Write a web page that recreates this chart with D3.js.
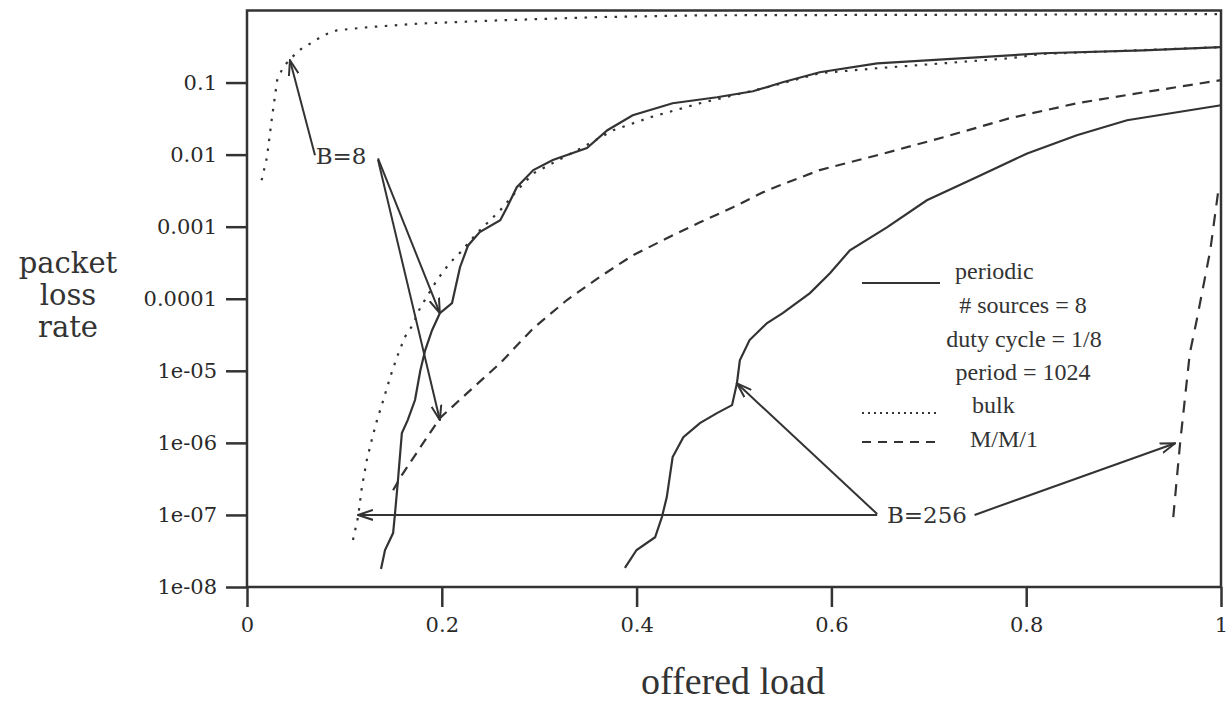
<!DOCTYPE html>
<html>
<head>
<meta charset="utf-8">
<script src="https://cdn.jsdelivr.net/npm/d3@7"></script>
<style>
  body { margin: 0; background: #fff; }
  svg { display: block; }
</style>
</head>
<body>
<svg id="chart" width="1230" height="704"></svg>
<script>
// Values (offered load vs. packet loss rate)
const bulk8Load = [0.015, 0.0205, 0.0257, 0.031, 0.037, 0.046, 0.0565, 0.067, 0.078, 0.092, 0.123, 0.178, 0.26, 0.362, 0.465, 0.67, 1.0];
const bulk8Loss = [0.0044, 0.0092, 0.033, 0.108, 0.163, 0.224, 0.30, 0.36, 0.45, 0.53, 0.585, 0.66, 0.73, 0.81, 0.857, 0.87, 0.89];

const periodic8Load = [0.1376, 0.1417, 0.150, 0.152, 0.155, 0.159, 0.165, 0.1725, 0.178, 0.183, 0.190, 0.198, 0.2105, 0.2187, 0.227, 0.239, 0.26, 0.267, 0.277, 0.294, 0.314, 0.349, 0.370, 0.396, 0.437, 0.4825, 0.5195, 0.550, 0.588, 0.647, 0.715, 0.817, 0.92, 1.0];
const periodic8Loss = [1.78e-8, 3.26e-8, 5.6e-8, 1.06e-7, 3.05e-7, 1.37e-6, 2.07e-6, 3.93e-6, 1.02e-5, 1.94e-5, 3.66e-5, 6.3e-5, 8.7e-5, 2.74e-4, 5.5e-4, 8.4e-4, 1.23e-3, 1.86e-3, 3.53e-3, 6.1e-3, 8.4e-3, 0.0123, 0.0218, 0.0352, 0.0516, 0.0625, 0.0757, 0.101, 0.139, 0.185, 0.21, 0.255, 0.28, 0.31];

const bulk256Load = [0.1088, 0.114, 0.118, 0.123, 0.128, 0.1335, 0.140, 0.147, 0.154, 0.162, 0.170, 0.178, 0.195, 0.208, 0.219, 0.236, 0.26, 0.280, 0.294, 0.345, 0.376, 0.414, 0.465, 0.534, 0.588, 0.647, 0.715, 0.783, 0.817, 1.0];
const bulk256Loss = [4.5e-8, 9.35e-8, 2.44e-7, 5.77e-7, 1.09e-6, 2.07e-6, 3.93e-6, 8.2e-6, 1.55e-5, 2.93e-5, 4.3e-5, 7.6e-5, 1.81e-4, 3.12e-4, 4.4e-4, 8.1e-4, 1.69e-3, 3.5e-3, 5.5e-3, 0.0127, 0.0218, 0.033, 0.0516, 0.086, 0.135, 0.158, 0.185, 0.217, 0.25, 0.31];

const mm1_8Load = [0.15, 0.159, 0.178, 0.198, 0.226, 0.26, 0.294, 0.3285, 0.362, 0.396, 0.431, 0.465, 0.499, 0.534, 0.588, 0.647, 0.715, 0.783, 0.852, 0.92, 1.0];
const mm1_8Loss = [2.2e-7, 3.57e-7, 8.7e-7, 2.2e-6, 4.9e-6, 1.28e-5, 3.9e-5, 9.6e-5, 2.0e-4, 4.0e-4, 6.9e-4, 1.15e-3, 1.86e-3, 3.2e-3, 6.1e-3, 9.8e-3, 0.0174, 0.032, 0.0516, 0.073, 0.108];

const periodic256Load = [0.388, 0.4, 0.419, 0.426, 0.431, 0.437, 0.448, 0.465, 0.4825, 0.498, 0.503, 0.506, 0.516, 0.534, 0.55, 0.578, 0.5985, 0.619, 0.657, 0.698, 0.7495, 0.801, 0.852, 0.9035, 1.0];
const periodic256Loss = [1.84e-8, 3.26e-8, 4.9e-8, 9.35e-8, 1.77e-7, 6.35e-7, 1.2e-6, 1.88e-6, 2.59e-6, 3.34e-6, 6.7e-6, 1.4e-5, 2.67e-5, 4.6e-5, 6.3e-5, 1.2e-4, 2.26e-4, 4.7e-4, 9.8e-4, 2.33e-3, 4.9e-3, 0.0104, 0.0186, 0.030, 0.0484];

const mm1_256Load = [0.951, 0.958, 0.968, 0.975, 0.989, 0.997];
const mm1_256Loss = [9.35e-8, 9.9e-7, 1.76e-5, 5.0e-5, 4.7e-4, 3.0e-3];

const xTicks = [0, 0.2, 0.4, 0.6, 0.8, 1];
const xTickLabels = ["0", "0.2", "0.4", "0.6", "0.8", "1"];
const yTicks = [1e-8, 1e-7, 1e-6, 1e-5, 1e-4, 1e-3, 1e-2, 1e-1];
const yTickLabels = ["1e-08", "1e-07", "1e-06", "1e-05", "0.0001", "0.001", "0.01", "0.1"];

const yTitleWords = ["packet", "loss", "rate"];
const legendLabels = ["periodic", "# sources = 8", "duty cycle = 1/8", "period = 1024", "bulk", "M/M/1"];

// Annotation arrows: [fromLoad, fromLoss, toLoad, toLoss]
const arrowsB8 = [
    [0.0698, 0.0098, 0.0441, 0.204],
    [0.1345, 0.0089, 0.198, 6.3e-5],
    [0.1345, 0.0085, 0.198, 2.07e-6]
];
const arrowsB256 = [
    [0.647, 1e-7, 0.114, 1e-7],
    [0.647, 1.03e-7, 0.503, 6.7e-6],
    [0.747, 1e-7, 0.953, 9.9e-7]
];
const labelB8 = { load: 0.0705, loss: 0.0098, text: "B=8" };
const labelB256 = { load: 0.657, loss: 1e-7, text: "B=256" };

const ink = "#333";
const svg = d3.select("#chart");

const x = d3.scaleLinear().domain([0, 1]).range([247, 1221]);
const y = d3.scaleLog().domain([1e-8, 1]).range([587, 10.5]);

function zip(xs, ys) {
    return xs.map((v, i) => ({ x: v, y: ys[i] }));
}

// Frame
svg.append("rect")
    .attr("x", x(0)).attr("y", y(1))
    .attr("width", x(1) - x(0)).attr("height", y(1e-8) - y(1))
    .attr("fill", "none")
    .attr("stroke", ink)
    .attr("stroke-width", 2.5);

// Axes
const yAxis = d3.axisLeft(y)
    .tickValues(yTicks)
    .tickFormat((d, i) => yTickLabels[i])
    .tickSize(21)
    .tickPadding(9);

const xAxis = d3.axisBottom(x)
    .tickValues(xTicks)
    .tickFormat((d, i) => xTickLabels[i])
    .tickSize(20)
    .tickPadding(10);

svg.append("g")
    .attr("transform", `translate(${x(0)},0)`)
    .call(yAxis)
    .call(styleAxis);

svg.append("g")
    .attr("transform", `translate(0,${y(1e-8)})`)
    .call(xAxis)
    .call(styleAxis);

function styleAxis(g) {
    g.select(".domain").remove();
    g.selectAll(".tick line")
        .attr("stroke", ink)
        .attr("stroke-width", 2.5);
    g.selectAll(".tick text")
        .attr("fill", "#2a2a2a")
        .style("font-family", "'DejaVu Serif', serif")
        .style("font-size", "21px");
}

// Axis titles
svg.append("text")
    .attr("x", 733).attr("y", 694)
    .attr("text-anchor", "middle")
    .attr("fill", ink)
    .style("font-family", "'Liberation Serif', serif")
    .style("font-size", "38px")
    .text("offered load");

svg.append("g")
    .selectAll("text")
    .data(yTitleWords)
    .join("text")
    .attr("x", 68)
    .attr("y", (d, i) => 273 + i * 32)
    .attr("text-anchor", "middle")
    .attr("fill", ink)
    .style("font-family", "'DejaVu Serif', serif")
    .style("font-size", "29px")
    .text(d => d);

// Curves
const line = d3.line()
    .x(d => x(d.x))
    .y(d => y(d.y));

const series = [
    { data: zip(bulk8Load, bulk8Loss), dash: "2.5,7.5" },
    { data: zip(periodic8Load, periodic8Loss), dash: null },
    { data: zip(bulk256Load, bulk256Loss), dash: "2.5,7.5" },
    { data: zip(mm1_8Load, mm1_8Loss), dash: "10,7" },
    { data: zip(periodic256Load, periodic256Loss), dash: null },
    { data: zip(mm1_256Load, mm1_256Loss), dash: "12,9" }
];

svg.append("g")
    .selectAll("path")
    .data(series)
    .join("path")
    .attr("d", d => line(d.data))
    .attr("fill", "none")
    .attr("stroke", ink)
    .attr("stroke-width", 2.2)
    .attr("stroke-dasharray", d => d.dash);

// Arrow marker
svg.append("defs").append("marker")
    .attr("id", "arrow")
    .attr("viewBox", "0 -6 16 12")
    .attr("refX", 15).attr("refY", 0)
    .attr("markerWidth", 16).attr("markerHeight", 12)
    .attr("markerUnits", "userSpaceOnUse")
    .attr("orient", "auto")
    .append("path")
    .attr("d", "M0,-5L15,0L0,5")
    .attr("fill", "none")
    .attr("stroke", ink)
    .attr("stroke-width", 2);

svg.append("g")
    .selectAll("line")
    .data(arrowsB8.concat(arrowsB256))
    .join("line")
    .attr("x1", d => x(d[0])).attr("y1", d => y(d[1]))
    .attr("x2", d => x(d[2])).attr("y2", d => y(d[3]))
    .attr("stroke", ink)
    .attr("stroke-width", 2)
    .attr("marker-end", "url(#arrow)");

// Annotation labels
[labelB8, labelB256].forEach(l => {
    svg.append("text")
        .attr("x", x(l.load)).attr("y", y(l.loss))
        .attr("dy", "0.36em")
        .attr("fill", ink)
        .style("font-family", "'DejaVu Serif', serif")
        .style("font-size", "23px")
        .text(l.text);
});

// Legend
const legend = svg.append("g")
    .attr("fill", ink)
    .style("font-family", "'Liberation Serif', serif")
    .style("font-size", "24px");

const legendRows = [
    { text: legendLabels[0], tx: 955, ty: 279, dash: null, ly: 283 },
    { text: legendLabels[1], tx: 1023, ty: 313, anchor: "middle" },
    { text: legendLabels[2], tx: 1024, ty: 347, anchor: "middle" },
    { text: legendLabels[3], tx: 1023, ty: 380, anchor: "middle" },
    { text: legendLabels[4], tx: 972, ty: 413, dash: "2,4", ly: 413 },
    { text: legendLabels[5], tx: 970, ty: 447, dash: "9,7", ly: 442 }
];

legendRows.forEach(r => {
    legend.append("text")
        .attr("x", r.tx).attr("y", r.ty)
        .attr("text-anchor", r.anchor || "start")
        .text(r.text);
    if (r.ly !== undefined) {
        legend.append("line")
            .attr("x1", 862).attr("x2", 940)
            .attr("y1", r.ly).attr("y2", r.ly)
            .attr("stroke", ink)
            .attr("stroke-width", 2)
            .attr("stroke-dasharray", r.dash);
    }
});
</script>
</body>
</html>
